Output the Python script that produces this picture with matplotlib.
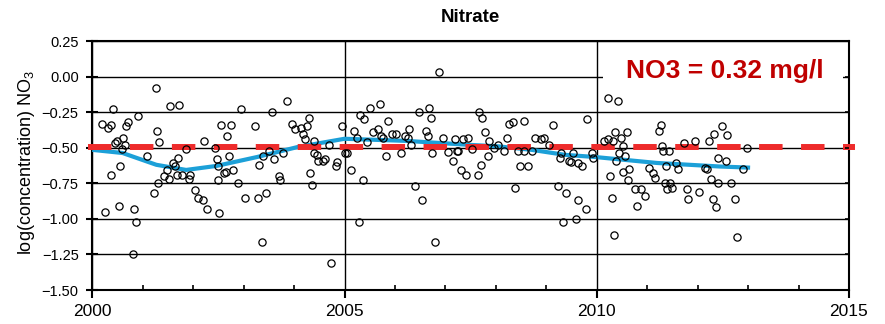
import matplotlib
matplotlib.use('Agg')
import matplotlib.pyplot as plt
from matplotlib.ticker import MultipleLocator
from matplotlib.patches import Rectangle

plt.rcParams['font.family'] = ['Liberation Sans', 'DejaVu Sans']
plt.rcParams['lines.scale_dashes'] = False

title = 'Nitrate'
ylabel = r'log(concentration) NO$\mathregular{_3}$'
annot_text = 'NO3 = 0.32 mg/l'
guide_value = -0.495  # log10(0.32 mg/l)

# ---- samples (decimal year, log concentration) ----
years_a = [2001.26, 2001.55, 2001.72, 2000.42, 2000.90, 2000.20, 2000.32, 2000.37, 2000.67, 2000.70,
           2001.28, 2001.33, 2002.22, 2000.48, 2000.61, 2000.45, 2000.65, 2000.58, 2001.86, 2002.43,
           2002.47, 2001.69, 2001.09, 2001.59, 2001.64, 2001.49, 2000.55, 2000.38, 2001.42, 2001.53,
           2001.67, 2001.77, 2001.94, 2001.92, 2001.31, 2002.50, 2002.50, 2001.22, 2002.04, 2002.10,
           2002.20, 2002.28, 2002.52, 2000.25, 2000.53, 2000.83, 2000.86, 2000.80, 2002.55]
values_a = [-0.08, -0.21, -0.20, -0.23, -0.28, -0.33, -0.36, -0.34, -0.35, -0.32,
            -0.38, -0.46, -0.45, -0.45, -0.43, -0.47, -0.48, -0.51, -0.51, -0.50,
            -0.58, -0.57, -0.56, -0.61, -0.63, -0.66, -0.63, -0.69, -0.70, -0.72,
            -0.69, -0.69, -0.69, -0.72, -0.75, -0.63, -0.73, -0.82, -0.80, -0.85,
            -0.87, -0.93, -0.96, -0.95, -0.91, -0.93, -1.02, -1.25, -0.34]

years_b = [2002.94, 2003.85, 2003.56, 2002.75, 2003.23, 2002.67, 2003.95, 2004.02, 2004.14, 2004.25,
           2004.30, 2004.18, 2004.22, 2004.39, 2004.94, 2004.70, 2002.70, 2002.62, 2002.65, 2002.78,
           2002.89, 2003.50, 2003.39, 2003.30, 2003.61, 2003.79, 2003.70, 2003.73, 2004.40, 2004.45,
           2004.48, 2004.58, 2004.61, 2004.84, 2004.86, 2004.32, 2004.36, 2003.03, 2003.28, 2003.44,
           2003.36, 2004.73, 2005.00]
values_b = [-0.23, -0.17, -0.25, -0.34, -0.35, -0.42, -0.33, -0.37, -0.36, -0.35,
            -0.29, -0.40, -0.44, -0.45, -0.35, -0.48, -0.56, -0.68, -0.67, -0.66,
            -0.75, -0.52, -0.56, -0.62, -0.58, -0.54, -0.70, -0.73, -0.54, -0.55,
            -0.59, -0.59, -0.58, -0.63, -0.60, -0.68, -0.76, -0.85, -0.85, -0.82,
            -1.16, -1.31, -0.54]

years_c = [2006.87, 2005.70, 2005.50, 2006.67, 2006.48, 2005.31, 2005.39, 2006.71, 2005.87, 2005.19,
           2005.25, 2005.56, 2005.67, 2005.72, 2005.77, 2005.95, 2006.03, 2006.28, 2006.20, 2006.26,
           2006.61, 2006.65, 2006.96, 2007.19, 2007.34, 2007.45, 2005.45, 2006.32, 2005.05, 2005.82,
           2006.11, 2006.73, 2007.06, 2007.22, 2007.25, 2007.16, 2005.12, 2007.31, 2007.40, 2005.37,
           2006.40, 2006.54, 2005.29, 2006.79]
values_c = [0.03, -0.19, -0.22, -0.22, -0.25, -0.27, -0.30, -0.29, -0.31, -0.38,
            -0.43, -0.39, -0.37, -0.42, -0.43, -0.40, -0.40, -0.37, -0.42, -0.43,
            -0.38, -0.42, -0.43, -0.44, -0.44, -0.43, -0.46, -0.48, -0.54, -0.56,
            -0.54, -0.54, -0.53, -0.52, -0.52, -0.59, -0.66, -0.66, -0.69, -0.73,
            -0.77, -0.87, -1.02, -1.16]

years_d = [2007.67, 2007.72, 2008.26, 2008.33, 2008.56, 2009.14, 2009.81, 2007.78, 2007.87, 2008.04,
           2008.23, 2008.78, 2008.89, 2008.95, 2007.53, 2007.96, 2008.17, 2008.44, 2008.56, 2008.71,
           2009.29, 2009.53, 2009.90, 2007.84, 2009.27, 2009.45, 2009.49, 2009.63, 2009.70, 2009.93,
           2007.70, 2008.48, 2008.64, 2007.64, 2008.37, 2009.23, 2009.40, 2009.62, 2009.79, 2009.34,
           2009.59, 2009.06]
values_d = [-0.25, -0.29, -0.33, -0.32, -0.31, -0.34, -0.30, -0.39, -0.45, -0.48,
            -0.43, -0.43, -0.44, -0.43, -0.51, -0.50, -0.52, -0.52, -0.52, -0.52,
            -0.54, -0.54, -0.54, -0.56, -0.57, -0.59, -0.60, -0.61, -0.63, -0.57,
            -0.62, -0.63, -0.63, -0.69, -0.78, -0.77, -0.82, -0.87, -0.93, -1.02,
            -1.00, -0.48]

years_e = [2010.23, 2010.43, 2011.27, 2011.23, 2010.37, 2010.59, 2010.49, 2010.15, 2010.22, 2010.32,
           2010.53, 2011.29, 2011.32, 2011.43, 2011.73, 2011.95, 2012.23, 2012.32, 2012.48, 2010.44,
           2010.56, 2010.39, 2010.26, 2010.53, 2010.64, 2010.62, 2011.04, 2011.12, 2011.15, 2011.37,
           2011.57, 2011.62, 2012.14, 2012.19, 2012.26, 2012.41, 2012.41, 2011.35, 2011.45, 2011.40,
           2011.50, 2010.76, 2010.87, 2010.96, 2011.79, 2012.03, 2010.30, 2011.81, 2012.30, 2010.79,
           2012.36, 2010.34, 2012.59, 2012.98, 2012.56, 2012.90, 2012.67, 2012.74, 2012.79]
values_e = [-0.15, -0.17, -0.34, -0.38, -0.39, -0.39, -0.43, -0.45, -0.44, -0.45,
            -0.49, -0.49, -0.52, -0.52, -0.47, -0.45, -0.45, -0.40, -0.35, -0.54,
            -0.56, -0.59, -0.70, -0.67, -0.65, -0.73, -0.64, -0.68, -0.71, -0.63,
            -0.61, -0.65, -0.64, -0.65, -0.72, -0.57, -0.75, -0.75, -0.75, -0.79,
            -0.78, -0.79, -0.79, -0.84, -0.79, -0.81, -0.85, -0.86, -0.86, -0.91,
            -0.92, -1.11, -0.41, -0.50, -0.59, -0.65, -0.75, -0.86, -1.13]

# ---- smoothed trend line ----
trend_years = [2000.0, 2000.6, 2001.27, 2001.86, 2002.46, 2003.27, 2004.07, 2005.0,
               2006.23, 2007.48, 2008.04, 2008.71, 2009.37, 2009.96, 2011.19, 2012.44, 2013.04]
trend_values = [-0.515, -0.537, -0.62, -0.656, -0.628, -0.565, -0.495, -0.437,
                -0.452, -0.48, -0.49, -0.515, -0.55, -0.565, -0.607, -0.632, -0.64]

xticks = [2000, 2005, 2010, 2015]
xtick_labels = ['2000', '2005', '2010', '2015']
yticks = [0.25, 0.0, -0.25, -0.5, -0.75, -1.0, -1.25, -1.5]
ytick_labels = ['0.25', '0.00', '\u22120.25', '\u22120.50', '\u22120.75', '\u22121.00', '\u22121.25', '\u22121.50']

years = years_a + years_b + years_c + years_d + years_e
values = values_a + values_b + values_c + values_d + values_e

fig = plt.figure(figsize=(8.85, 3.24), dpi=100)
ax = fig.add_axes([0.1043, 0.1049, 0.8550, 0.7685])
ax.set_xlim(2000, 2015)
ax.set_ylim(-1.5, 0.25)

ax.set_xticks(xticks)
ax.set_xticklabels(xtick_labels)
ax.xaxis.set_minor_locator(MultipleLocator(1))
ax.set_yticks(yticks)
ax.set_yticklabels(ytick_labels)

ax.grid(True, which='major', color='black', lw=1.0)
for s in ax.spines.values():
    s.set_linewidth(1.5)

ax.tick_params(axis='x', which='major', direction='out', length=6, width=1.5,
               labelsize=12.5, pad=4)
ax.tick_params(axis='x', which='minor', direction='in', length=3.6, width=1.2)
ax.tick_params(axis='y', which='major', direction='inout', length=8.6, width=1.5,
               labelsize=10.5, pad=5.5)

tw = ax.twinx()
tw.set_ylim(-1.5, 0.25)
tw.set_yticks(yticks)
tw.tick_params(axis='y', direction='in', length=3, width=1.2, labelright=False)
for s in tw.spines.values():
    s.set_visible(False)

# white box for annotation
ax.add_patch(Rectangle((0.675, 0.791), 0.317, 0.193, transform=ax.transAxes,
                       facecolor='white', edgecolor='none', zorder=2))
ax.text(0.836, 0.850, annot_text, transform=ax.transAxes, ha='center', va='baseline',
        fontsize=19, fontweight='bold', color='#C00000', zorder=6)

ax.plot(trend_years, trend_values, color='#1CA0D8', lw=3.0, zorder=3, solid_capstyle='butt')
ax.plot([1999.915, 2015.12], [guide_value, guide_value], color='#EE2B2B', lw=4.3,
        dashes=(16.9, 13.3), clip_on=False, zorder=3.5, solid_capstyle='butt',
        dash_capstyle='butt')
ax.plot(years, values, 'o', ms=5.2, mfc='none', mec='black', mew=0.9, zorder=4)

fig.text(470.5 / 885, 1 - 21.7 / 324, title, ha='center', va='baseline',
         fontsize=13.5, fontweight='bold')
fig.text(27 / 885, 1 - 163 / 324, ylabel, rotation=90, ha='center', va='center',
         fontsize=13)

fig.savefig('out.png', dpi=100)
